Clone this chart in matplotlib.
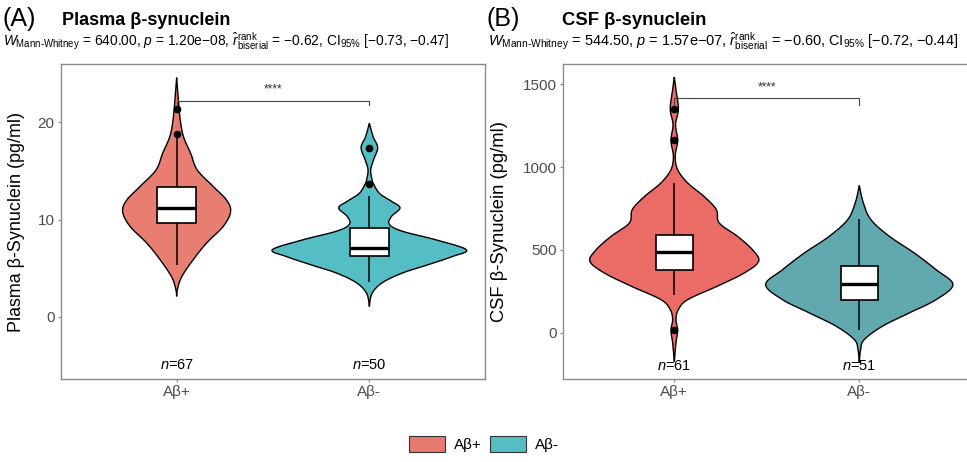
import numpy as np
import matplotlib
matplotlib.use("Agg")
import matplotlib.pyplot as plt
from matplotlib.patches import Patch

plt.rcParams['font.family'] = ['Liberation Sans', 'DejaVu Sans']
plt.rcParams['mathtext.fontset'] = 'custom'
plt.rcParams['mathtext.rm'] = 'Liberation Sans'
plt.rcParams['mathtext.it'] = 'Liberation Sans:italic'
plt.rcParams['mathtext.bf'] = 'Liberation Sans:bold'

# ---------------- data ----------------
categories = ["Aβ+", "Aβ-"]

# Panel A: plasma beta-synuclein -- violin outline (value, half-width in x units)
plasma_pos_y = [24.6, 22.3, 20.2, 18.5, 16.8, 15.1, 13.4, 12.0, 10.8, 9.3, 7.6, 5.9, 4.1, 2.8, 2.1]
plasma_pos_w = [0.0, 0.009, 0.019, 0.036, 0.073, 0.107, 0.190, 0.259, 0.280, 0.242, 0.156, 0.087, 0.026, 0.004, 0.0]
plasma_neg_y = [19.9, 18.5, 17.4, 16.1, 15.1, 14.1, 13.7, 12.7, 11.9, 11.2, 10.3, 9.5, 8.8, 7.9, 6.9, 6.2, 5.3, 4.5, 3.5, 2.4, 1.06]
plasma_neg_w = [0.0, 0.020, 0.043, 0.021, 0.007, 0.014, 0.021, 0.052, 0.113, 0.159, 0.114, 0.104, 0.171, 0.348, 0.503, 0.431, 0.296, 0.171, 0.067, 0.014, 0.0]
# box stats: whisker low, q1, median, q3, whisker high
plasma_box_pos = [5.3, 9.6, 11.2, 13.3, 18.4]
plasma_box_neg = [3.6, 6.3, 7.06, 9.1, 12.4]
plasma_out_pos = [18.85, 21.4]
plasma_out_neg = [13.7, 17.4]
plasma_n = [67, 50]

# Panel B: CSF beta-synuclein
csf_pos_y = [1544, 1467, 1351, 1256, 1161, 1065, 984, 904, 823, 743, 662, 582, 501, 431, 360, 280, 199, 139, 78, 14, -62, -175]
csf_pos_w = [0.0, 0.009, 0.022, 0.007, 0.018, 0.005, 0.018, 0.072, 0.160, 0.227, 0.243, 0.341, 0.422, 0.456, 0.378, 0.232, 0.072, 0.022, 0.009, 0.018, 0.009, 0.0]
csf_neg_y = [888, 783, 682, 582, 481, 380, 290, 199, 119, 38, -42, -103, -183]
csf_neg_w = [0.0, 0.022, 0.063, 0.162, 0.297, 0.415, 0.506, 0.415, 0.270, 0.124, 0.027, 0.007, 0.0]
csf_box_pos = [225, 376, 485, 588, 903]
csf_box_neg = [14, 199, 296, 405, 686]
csf_out_pos = [14, 1161, 1351]
csf_out_neg = []
csf_n = [61, 51]

plasma_stats = r"$W_{\mathrm{Mann\text{-}Whitney}}$ = 640.00, $p$ = 1.20e−08, $\hat{r}_{\mathrm{biserial}}^{\mathrm{rank}}$ = −0.62, CI$_{95\%}$ [−0.73, −0.47]"
csf_stats = r"$W_{\mathrm{Mann\text{-}Whitney}}$ = 544.50, $p$ = 1.57e−07, $\hat{r}_{\mathrm{biserial}}^{\mathrm{rank}}$ = −0.60, CI$_{95\%}$ [−0.72, −0.44]"

# ---------------- helpers ----------------
def smooth(ys, ws, n=14):
    P = np.column_stack([ys, ws]).astype(float)
    P = np.vstack([P[0], P, P[-1]])
    out = []
    for i in range(1, len(P) - 2):
        p0, p1, p2, p3 = P[i - 1], P[i], P[i + 1], P[i + 2]
        for t in np.linspace(0, 1, n, endpoint=False):
            out.append(0.5 * (2 * p1 + (-p0 + p2) * t + (2 * p0 - 5 * p1 + 4 * p2 - p3) * t ** 2
                              + (-p0 + 3 * p1 - 3 * p2 + p3) * t ** 3))
    out.append(P[-2])
    out = np.array(out)
    return out[:, 0], np.clip(out[:, 1], 0, None)


def draw_group(ax, x, ys, ws, box, outs, color):
    y, w = smooth(ys, ws)
    ax.fill(np.r_[x - w, (x + w)[::-1]], np.r_[y, y[::-1]], facecolor=color,
            edgecolor='black', linewidth=1.0, zorder=2)
    lo, q1, med, q3, hi = box
    ax.plot([x, x], [lo, q1], color='black', lw=1.1, zorder=3, solid_capstyle='butt')
    ax.plot([x, x], [q3, hi], color='black', lw=1.1, zorder=3, solid_capstyle='butt')
    bw = 0.1
    ax.fill([x - bw, x + bw, x + bw, x - bw], [q1, q1, q3, q3], facecolor='white',
            edgecolor='black', linewidth=1.2, zorder=4)
    ax.plot([x - bw, x + bw], [med, med], color='black', lw=2.4, zorder=5, solid_capstyle='butt')
    if outs:
        ax.plot([x] * len(outs), outs, 'o', color='black', ms=4.5, zorder=6)


def style_axes(ax, ylim, yticks, ylabel, labx, labsize):
    ax.set_xlim(0.4, 2.6)
    ax.set_ylim(*ylim)
    ax.set_xticks([1, 2])
    ax.set_xticklabels(categories)
    ax.set_yticks(yticks)
    for s in ax.spines.values():
        s.set_color('#8a8a8a')
        s.set_linewidth(1.0)
    ax.tick_params(axis='both', colors='#8a8a8a', length=2.5, width=0.9, labelsize=11,
                   labelcolor='#4d4d4d', pad=2)
    ax.set_ylabel(ylabel, fontsize=labsize, color='black')
    ax.yaxis.set_label_coords(labx, 0.5)


def bracket(ax, ytop, ydrop, ystar):
    ax.plot([1, 1, 2, 2], [ydrop, ytop, ytop, ydrop], color='#444444', lw=0.8, zorder=7)
    ax.text(1.5, ystar, "****", ha='center', va='center', fontsize=8.5, color='#333333')


# ---------------- figure ----------------
W, H = 967, 462
fig = plt.figure(figsize=(W / 100, H / 100), dpi=100)

def px_axes(l, t, r, b):
    return fig.add_axes([l / W, 1 - b / H, (r - l) / W, (b - t) / H])

axA = px_axes(61, 64, 485, 379)
axB = px_axes(563.3, 64, 970.3, 379)

colA = ['#E87D72', '#55BEC4']
colB = ['#EB6C66', '#62A9AF']

draw_group(axA, 1, plasma_pos_y, plasma_pos_w, plasma_box_pos, plasma_out_pos, colA[0])
draw_group(axA, 2, plasma_neg_y, plasma_neg_w, plasma_box_neg, plasma_out_neg, colA[1])
style_axes(axA, (-6.4, 26.0), [0, 10, 20], "Plasma β-Synuclein (pg/ml)", -0.085, 12.9)
bracket(axA, 22.2, 21.8, 23.4)
for i, n in enumerate(plasma_n):
    axA.text(i + 1, -5.0, f"$n$={n}", ha='center', va='center', fontsize=10.5)

draw_group(axB, 1, csf_pos_y, csf_pos_w, csf_box_pos, csf_out_pos, colB[0])
draw_group(axB, 2, csf_neg_y, csf_neg_w, csf_box_neg, csf_out_neg, colB[1])
style_axes(axB, (-280, 1622), [0, 500, 1000, 1500], "CSF β-Synuclein (pg/ml)", -0.136, 13.2)
bracket(axB, 1417, 1377, 1481)
for i, n in enumerate(csf_n):
    axB.text(i + 1, -200, f"$n$={n}", ha='center', va='center', fontsize=10.5)

def ftext(x, y, s, **kw):
    fig.text(x / W, 1 - y / H, s, **kw)

ftext(3, 26, "(A)", fontsize=18, va='baseline')
ftext(62, 25, "Plasma β-synuclein", fontsize=13, fontweight='bold', va='baseline')
ftext(3, 46, plasma_stats, fontsize=9.95, va='baseline')
ftext(486, 26, "(B)", fontsize=18, va='baseline')
ftext(562, 25, "CSF β-synuclein", fontsize=13.3, fontweight='bold', va='baseline')
ftext(488, 46, csf_stats, fontsize=10.45, va='baseline')

handles = [Patch(facecolor='#E8796F', edgecolor='#333333', lw=0.8),
           Patch(facecolor='#55BDC4', edgecolor='#333333', lw=0.8)]
fig.legend(handles, categories, loc='center', bbox_to_anchor=(484 / W, 1 - 444 / H), ncol=2,
           frameon=False, fontsize=11, handlelength=2.36, handleheight=1.18,
           handletextpad=0.6, columnspacing=0.5, borderaxespad=0)

fig.savefig("out.png", dpi=100)
